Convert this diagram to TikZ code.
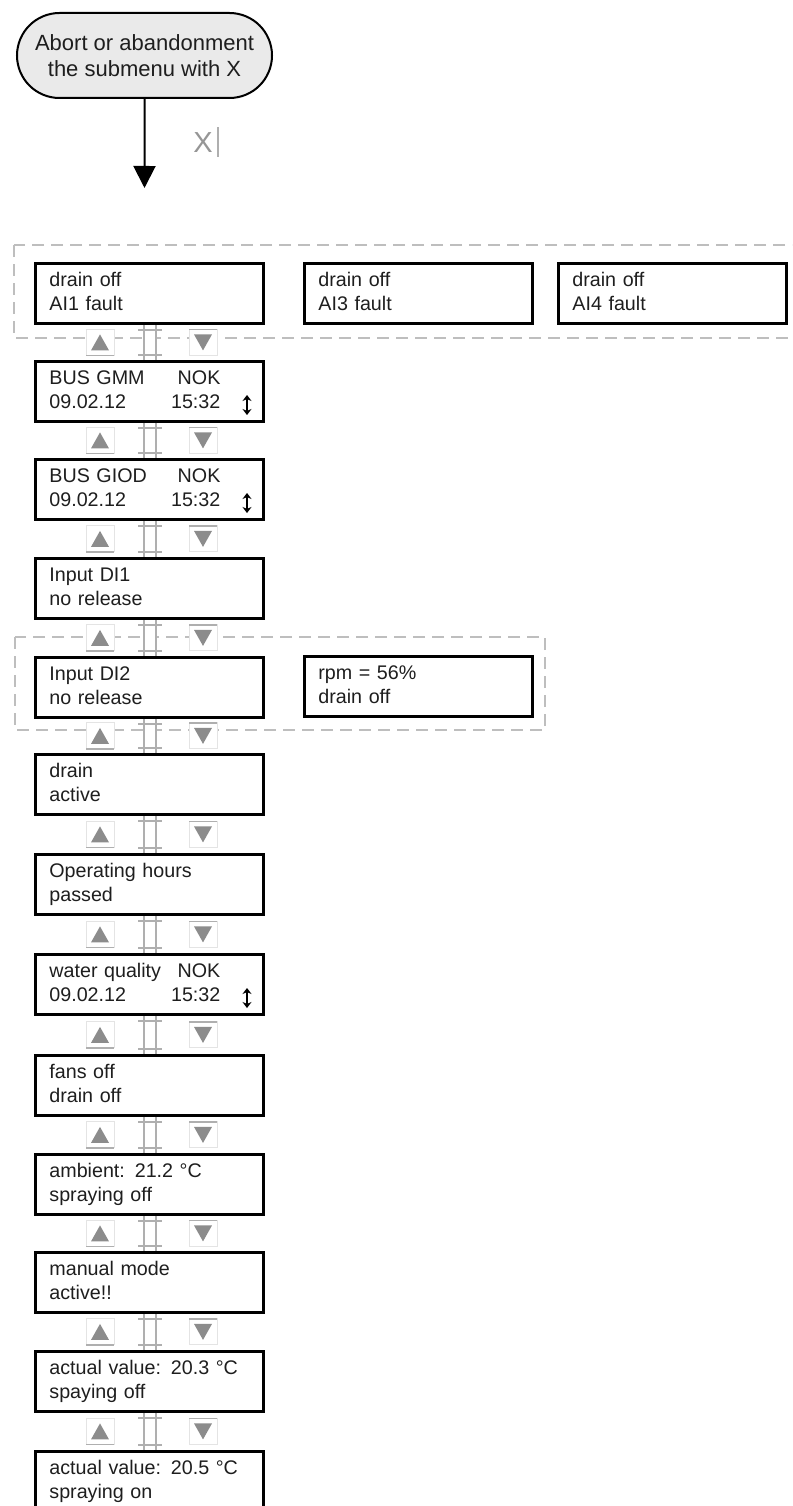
\documentclass[tikz,border=0pt]{standalone}
\usepackage{fontspec}
\setmainfont{Liberation Sans}
\usetikzlibrary{shapes.misc,arrows.meta,calc}
\definecolor{ovalfill}{RGB}{234,234,234}
\definecolor{grpc}{RGB}{190,190,190}
\definecolor{keyfr}{RGB}{228,228,228}
\definecolor{keyedge}{RGB}{175,175,175}
\definecolor{keytri}{RGB}{140,140,140}
\definecolor{connc}{RGB}{175,175,175}
\definecolor{txtc}{RGB}{30,30,30}
\definecolor{xkey}{RGB}{150,150,150}
\newcommand\scrfont{\fontsize{19.7}{24}\selectfont}
\newcommand\twocol[2]{\hbox to 171pt{#1\hfill #2}}
\newcommand\linkpair[2]{%
  \draw[link] ($(#1.south west)+(116,0)$) -- ($(#2.north west)+(116,0)$);
  \draw[bar] ($(#1.south west)+(104,5)$) -- ++(24,0);
  \draw[bar] ($(#2.north west)+(104,-5)$) -- ++(24,0);
  \pic at ($(#1.south west)!0.5!(#2.north west)+(66,0)$) {upkey};
  \pic at ($(#1.south west)!0.5!(#2.north west)+(169,0)$) {downkey};
}
\newcommand\updnmark[1]{%
  \draw[updn] ($(#1.north west)+(213,35)$) -- ($(#1.north west)+(213,55)$);
}
\begin{document}
\begin{tikzpicture}[x=1pt,y=-1pt,
  scr/.style={draw=black, line width=2.8pt, anchor=north west, minimum width=228pt,
    minimum height=60pt, text width=200pt, inner xsep=14pt, inner ysep=0pt,
    align=left, font=\scrfont, text=txtc, text height=15pt, text depth=29pt},
  grp/.style={draw=grpc, line width=1.5pt, dash pattern=on 12pt off 7pt},
  link/.style={draw=connc, line width=1.6pt, double=white, double distance=10pt},
  bar/.style={draw=connc, line width=1.6pt},
  updn/.style={line width=1.8pt, arrows={Stealth[length=6pt,width=9pt]-Stealth[length=6pt,width=9pt]}},
  mainarr/.style={line width=2pt, arrows={-Triangle[length=22pt,width=22pt]}},
  oval/.style={rounded rectangle, draw=black, line width=2pt, fill=ovalfill,
    minimum width=255pt, minimum height=85pt, align=center, inner sep=0pt,
    font=\fontsize{22}{25.5}\selectfont, text=txtc},
  upkey/.pic={
    \draw[draw=keyfr, line width=1pt, fill=white] (-14,-13) rectangle (14,13);
    \draw[draw=keyedge, line width=1.6pt] (-14,13) -- (14,13);
    \fill[keytri] (-9,8) -- (9,8) -- (0,-8) -- cycle;
  },
  downkey/.pic={
    \draw[draw=keyfr, line width=1pt, fill=white] (-14,-13) rectangle (14,13);
    \draw[draw=keyedge, line width=1.6pt] (-14,-13) -- (14,-13);
    \fill[keytri] (-9,-8) -- (9,-8) -- (0,8) -- cycle;
  }
]
\useasboundingbox (0,0) rectangle (792,1506);
\clip (0,0) rectangle (792,1506);

% dashed groups
\draw[grp] (14,245) rectangle (810,338);
\draw[grp] (15,637) rectangle (545,730);

% screens
\node[scr] (ai1) at (34,262) {drain off\\AI1 fault};
\node[scr] (ai3) at (303,262) {drain off\\AI3 fault};
\node[scr] (ai4) at (557,262) {drain off\\AI4 fault};
\node[scr] (gmm) at (34,360) {\twocol{BUS GMM}{NOK}\\\twocol{09.02.12}{15:32}};
\node[scr] (giod) at (34,458) {\twocol{BUS GIOD}{NOK}\\\twocol{09.02.12}{15:32}};
\node[scr] (di1) at (34,557) {Input DI1\\no release};
\node[scr] (di2) at (34,656) {Input DI2\\no release};
\node[scr] (rpm) at (303,655) {rpm = 56\%\\drain off};
\node[scr] (drain) at (34,753) {drain\\active};
\node[scr] (ophrs) at (34,853) {Operating hours\\passed};
\node[scr] (water) at (34,953) {\twocol{water quality}{NOK}\\\twocol{09.02.12}{15:32}};
\node[scr] (fans) at (34,1054) {fans off\\drain off};
\node[scr] (amb) at (34,1153) {ambient: 21.2 °C\\spraying off};
\node[scr] (manual) at (34,1251) {manual mode\\active!!};
\node[scr] (act1) at (34,1350) {actual value: 20.3 °C\\spaying off};
\node[scr] (act2) at (34,1450) {actual value: 20.5 °C\\spraying on};

\updnmark{gmm}
\updnmark{giod}
\updnmark{water}

% links with keys
\linkpair{ai1}{gmm}
\linkpair{gmm}{giod}
\linkpair{giod}{di1}
\linkpair{di1}{di2}
\linkpair{di2}{drain}
\linkpair{drain}{ophrs}
\linkpair{ophrs}{water}
\linkpair{water}{fans}
\linkpair{fans}{amb}
\linkpair{amb}{manual}
\linkpair{manual}{act1}
\linkpair{act1}{act2}

% top
\node[oval] (abort) at (144.5,55.5) {Abort or abandonment\\the submenu with X};
\coordinate (arrend) at (144.5,188);
\draw[mainarr] (abort) -- (arrend);
\node[inner sep=0pt, text=xkey, font=\fontsize{29}{29}\selectfont] (xkey) at (203,142.5) {X};
\draw[draw=connc, line width=1.5pt] ($(xkey.east)+(5,-15)$) -- ($(xkey.east)+(5,15)$);
\end{tikzpicture}
\end{document}
